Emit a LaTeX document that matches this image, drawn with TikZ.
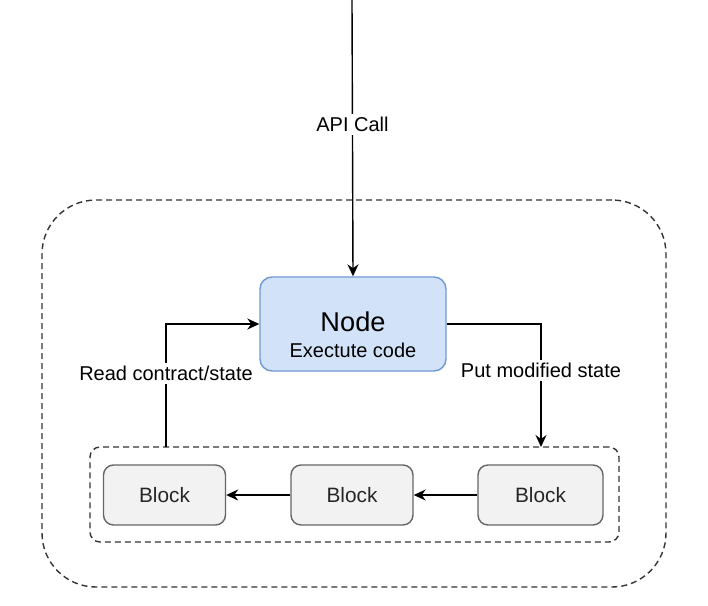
\documentclass[tikz,border=0pt]{standalone}
\usepackage{fontspec}
\setmainfont{Liberation Sans}
\usetikzlibrary{arrows.meta}
\definecolor{nodefill}{RGB}{210,227,249}
\definecolor{nodeline}{RGB}{112,152,212}
\definecolor{blockfill}{RGB}{242,242,242}
\definecolor{blockline}{RGB}{102,102,102}
\tikzset{
  block/.style={draw=blockline,fill=blockfill,rounded corners=5pt,line width=0.7pt,
    minimum width=61pt,minimum height=30pt,font=\fontsize{10.4}{12}\selectfont,text=black!85},
  frame/.style={draw=black!80,dashed,dash pattern=on 3pt off 2pt,line width=0.7pt},
  lbl/.style={fill=white,inner sep=1.5pt,font=\fontsize{10}{12}\selectfont}
}
\begin{document}
\begin{tikzpicture}[x=0.5pt,y=-0.5pt,>={Stealth[length=6pt,width=5.5pt]},line width=0.7pt]
    \useasboundingbox (0,0) rectangle (708,606);
    % frames
    \node[frame,rounded corners=27pt,minimum width=312pt,minimum height=193.5pt]
          (env) at (354,393.5) {};
    \node[frame,rounded corners=5pt,minimum width=264.5pt,minimum height=47.5pt]
          (chain) at (354.5,494.5) {};
    % node
    \node[draw=nodeline,fill=nodefill,rounded corners=6pt,minimum width=93pt,
          minimum height=47pt] (exec) at (353,324) {};
    \node[font=\fontsize{13.6}{15}\selectfont,inner sep=0pt] (title) at (353,322) {Node};
    \node[font=\fontsize{10}{12}\selectfont,inner sep=0pt] (sub) at (353,350) {Exectute code};
    % blocks
    \node[block] (blk1) at (164.5,495) {Block};
    \node[block] (blk2) at (352,495) {Block};
    \node[block,minimum width=62.5pt] (blk3) at (540.5,495) {Block};
    \coordinate (api) at (352,0);
    \coordinate (rd) at (166,447);
    \coordinate (wr) at (541,447);
    \draw[->]
          (api) -- node[lbl,pos=0.45] {API Call} (exec.north);
    \draw[->]
          (rd) |- node[lbl,pos=0.3] {Read contract/state} (exec.west);
    \draw[->]
          (exec.east) -| node[lbl,pos=0.69] {Put modified state} (wr);
    \draw[->]
          (blk3) edge (blk2)
          (blk2) edge (blk1);
\end{tikzpicture}
\end{document}
